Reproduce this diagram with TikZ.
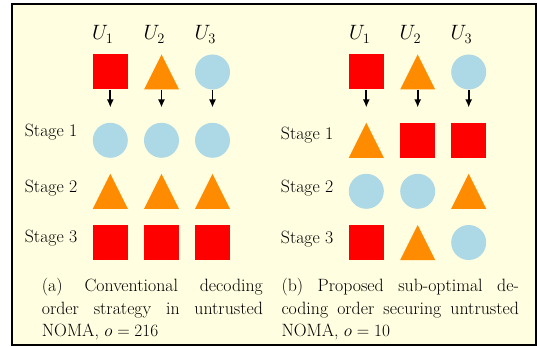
\documentclass[tikz,border=0pt]{standalone}
\usetikzlibrary{arrows.meta}
\definecolor{bgyellow}{HTML}{FFFEE0}
\definecolor{sqred}{HTML}{FF0000}
\definecolor{triorange}{HTML}{FF8C00}
\definecolor{circblue}{HTML}{ADD8E6}
\tikzset{
  cell/.style={rectangle, minimum width=35pt, minimum height=35pt, inner sep=0pt, draw=none},
  sq/.style={cell, fill=sqred},
  ci/.style={cell, path picture={\fill[circblue] (path picture bounding box.center) circle (17.5pt);}},
  tri/.style={cell, path picture={\fill[triorange] (path picture bounding box.south west) -- (path picture bounding box.south east) -- (path picture bounding box.north) -- cycle;}},
  lbl/.style={inner sep=0pt, anchor=base west, font=\fontsize{17.8}{22}\selectfont},
  ulbl/.style={inner sep=0pt, anchor=base west, font=\fontsize{20.5}{24}\selectfont},
  captext/.style={inner sep=0pt, anchor=north west, align=justify, font=\fontsize{17.8}{22.5}\selectfont},
  arr/.style={line width=1.8pt, -{Latex[length=8pt,width=7pt]}}
}
\begin{document}
\begin{tikzpicture}[x=1pt,y=-1pt]
\useasboundingbox (0,0) rectangle (537,347);
\draw[line width=2pt, fill=bgyellow] (11.5,4) rectangle (535.5,344.5);
% ---------- left panel ----------
\node[ulbl] (lu1) at (92,40) {$U_1$};
\node[ulbl] (lu2) at (143.3,40) {$U_2$};
\node[ulbl] (lu3) at (194.3,40) {$U_3$};
\node[sq]  (la1) at (110.3,72) {};
\node[tri] (la2) at (161.5,72) {};
\node[ci]  (la3) at (212.5,72) {};
\coordinate (lt1) at (110.3,107.5);
\coordinate (lt2) at (161.5,107.5);
\coordinate (lt3) at (212.5,107.5);
\draw[arr] (la1.south) -- (lt1);
\draw[arr] (la2.south) -- (lt2);
\draw[arr] (la3.south) -- (lt3);
\node[lbl] (ls1) at (24.7,137) {Stage 1};
\node[lbl] (ls2) at (24.7,192.5) {Stage 2};
\node[lbl] (ls3) at (24.7,242.7) {Stage 3};
\node[ci]  (lb1) at (110.3,140.3) {};
\node[ci]  (lb2) at (161.5,140.3) {};
\node[ci]  (lb3) at (212.5,140.3) {};
\node[tri] (lc1) at (110.3,191.3) {};
\node[tri] (lc2) at (161.5,191.3) {};
\node[tri] (lc3) at (212.5,191.3) {};
\node[sq]  (ld1) at (110.3,242.5) {};
\node[sq]  (ld2) at (161.5,242.5) {};
\node[sq]  (ld3) at (212.5,242.5) {};
\node[captext, text width=221pt] (lcap) at (41.7,278) {(a) Conventional decoding\linebreak order strategy in untrusted\linebreak NOMA, $o=216$};
% ---------- right panel ----------
\node[ulbl] (ru1) at (349,40) {$U_1$};
\node[ulbl] (ru2) at (399.5,40) {$U_2$};
\node[ulbl] (ru3) at (450.5,40) {$U_3$};
\node[sq]  (ra1) at (366.3,72) {};
\node[tri] (ra2) at (417.7,72) {};
\node[ci]  (ra3) at (468.7,72) {};
\coordinate (rt1) at (366.3,107.5);
\coordinate (rt2) at (417.7,107.5);
\coordinate (rt3) at (468.7,107.5);
\draw[arr] (ra1.south) -- (rt1);
\draw[arr] (ra2.south) -- (rt2);
\draw[arr] (ra3.south) -- (rt3);
\node[lbl] (rs1) at (280.7,140) {Stage 1};
\node[lbl] (rs2) at (280.7,192.5) {Stage 2};
\node[lbl] (rs3) at (280.7,243.3) {Stage 3};
\node[tri] (rb1) at (366.3,140.3) {};
\node[sq]  (rb2) at (417.7,140.3) {};
\node[sq]  (rb3) at (468.7,140.3) {};
\node[ci]  (rc1) at (366.3,191.3) {};
\node[ci]  (rc2) at (417.7,191.3) {};
\node[tri] (rc3) at (468.7,191.3) {};
\node[sq]  (rd1) at (366.3,242.5) {};
\node[tri] (rd2) at (417.7,242.5) {};
\node[ci]  (rd3) at (468.7,242.5) {};
\node[captext, text width=237.4pt] (rcap) at (281.3,278) {(b) Proposed sub-optimal de-\linebreak coding order securing untrusted\linebreak NOMA, $o=10$};
\end{tikzpicture}
\end{document}
